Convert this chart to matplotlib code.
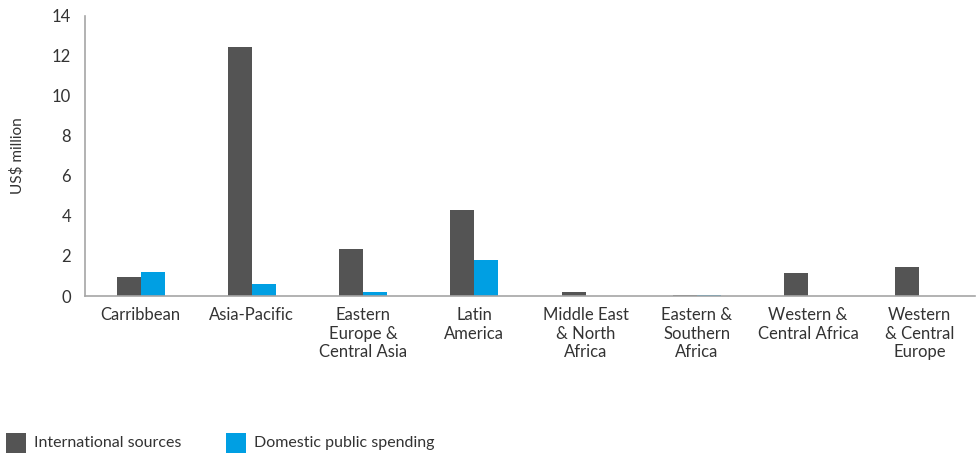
import matplotlib
matplotlib.use("Agg")
import matplotlib.pyplot as plt
from matplotlib.patches import Rectangle
import numpy as np

# ---- data ----
regions = ["Carribbean", "Asia-Pacific", "Eastern\nEurope &\nCentral Asia", "Latin\nAmerica",
           "Middle East\n& North\nAfrica", "Eastern &\nSouthern\nAfrica", "Western &\nCentral Africa",
           "Western\n& Central\nEurope"]
international = [0.95, 12.45, 2.37, 4.3, 0.18, 0.07, 1.17, 1.47]
domestic = [1.2, 0.6, 0.18, 1.8, 0.0, 0.07, 0.02, 0.0]
y_ticks = [0, 2, 4, 6, 8, 10, 12, 14]
series_names = ["International sources", "Domestic public spending"]

C_INTL = "#545454"
C_DOM = "#009FE3"
C_TEXT = "#333333"
C_AXIS = "#A6A6A6"

plt.rcParams["font.family"] = ["Lato", "DejaVu Sans"]

W, H = 977, 454
fig = plt.figure(figsize=(W / 100, H / 100), dpi=100)
ax = fig.add_axes([0.087, 0.348, 0.911, 0.617])

x = np.arange(len(regions))
w = 0.215
ax.bar(x - w / 2, international, w, color=C_INTL)
ax.bar(x + w / 2, domestic, w, color=C_DOM)

ax.set_xlim(-0.5, len(regions) - 0.5)
ax.set_ylim(0, 14)
ax.set_yticks(y_ticks)
ax.set_xticks(x)
ax.set_xticklabels(regions, linespacing=1.2)
ax.tick_params(axis="both", length=0, labelsize=12, colors=C_TEXT)
ax.tick_params(axis="x", pad=8)
ax.tick_params(axis="y", pad=10)

for s in ["top", "right"]:
    ax.spines[s].set_visible(False)
for s in ["left", "bottom"]:
    ax.spines[s].set_color(C_AXIS)
    ax.spines[s].set_linewidth(1.2)

ax.set_ylabel("US$ million", fontsize=11, color=C_TEXT)
ax.yaxis.set_label_coords(-0.068, 0.5)

# legend drawn by hand: big square swatches like the original
for (px, tx), name, col in zip([(6, 34), (226, 254)], series_names, [C_INTL, C_DOM]):
    fig.patches.append(Rectangle((px / W, 1 - 453 / H), 20 / W, 20 / H,
                                 transform=fig.transFigure, facecolor=col, edgecolor="none"))
    fig.text(tx / W, 1 - 443 / H, name, fontsize=11.5, color=C_TEXT, va="center", ha="left")

fig.savefig("out.png", dpi=100)
